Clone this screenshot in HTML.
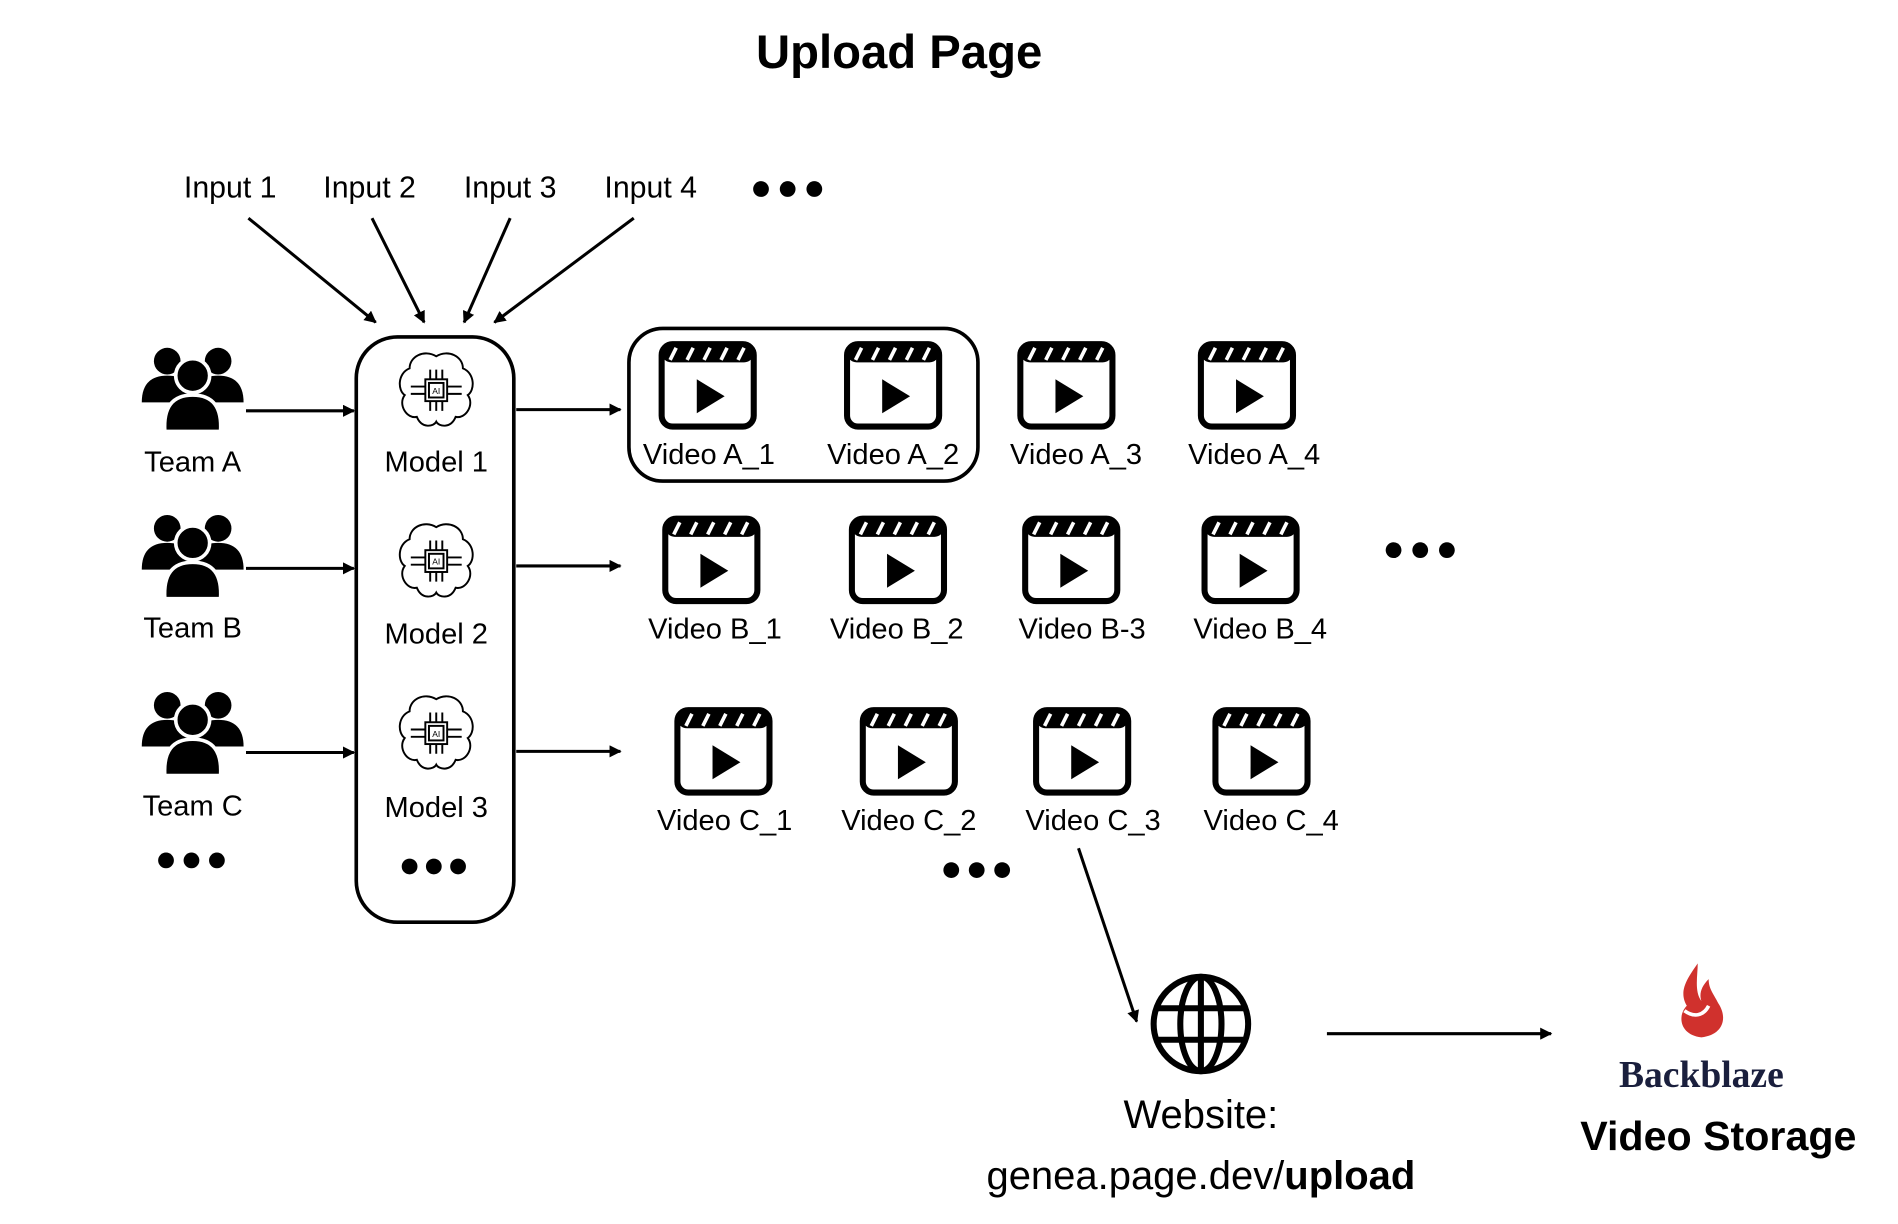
<!DOCTYPE html>
<html><head><meta charset="utf-8"><style>
html,body{margin:0;padding:0;background:#fff;width:1898px;height:1224px;overflow:hidden}
svg{display:block}
text{font-family:"Liberation Sans",sans-serif;fill:#000}
</style></head><body>
<svg width="1898" height="1224" viewBox="0 0 1560 1006" xmlns="http://www.w3.org/2000/svg">
<defs>
<marker id="ah" markerWidth="10" markerHeight="10" refX="9" refY="5" orient="auto" markerUnits="userSpaceOnUse"><path d="M0,0 L10,5 L0,10 z" fill="#000"/></marker>
<g id="clap">
<rect x="-38" y="-34" width="76" height="68" rx="9" fill="none" stroke="#000" stroke-width="5"/>
<rect x="-38" y="-34" width="76" height="15" rx="8" fill="#000"/>
<path d="M-26,-31 l-5,10 M-12,-31 l-5,10 M2,-31 l-5,10 M16,-31 l-5,10 M30,-31 l-5,10" stroke="#fff" stroke-width="3"/>
<path d="M-9,-5 L14,9 L-9,23 z" fill="#000"/>
</g>
<g id="people">
<circle cx="-21" cy="-24" r="11"/><circle cx="21" cy="-24" r="11"/>
<path d="M-42,10 Q-42,-12 -21,-12 Q0,-12 0,10 z"/><path d="M0,10 Q0,-12 21,-12 Q42,-12 42,10 z"/>
<circle cx="0" cy="-12" r="14" stroke="#fff" stroke-width="3"/>
<path d="M-23,34 Q-25,4 0,4 Q25,4 23,34 z" stroke="#fff" stroke-width="3"/>
</g>
<g id="brain" fill="none" stroke="#000" stroke-width="1.6">
<path d="M0,-28 C-10,-34 -22,-28 -22,-18 C-32,-14 -32,0 -26,4 C-32,12 -24,24 -16,22 C-12,32 -2,30 0,26 C2,30 12,32 16,22 C24,24 32,12 26,4 C32,0 32,-14 22,-18 C22,-28 10,-34 0,-28 z"/>
<rect x="-9" y="-9" width="18" height="18"/><rect x="-6" y="-6" width="12" height="12"/>
<path d="M-5,-9 v-8 M0,-9 v-8 M5,-9 v-8 M-5,9 v8 M0,9 v8 M5,9 v8 M-9,-3 h-12 M-9,3 h-12 M9,-3 h12 M9,3 h12"/>
<text x="0" y="3" font-size="7" text-anchor="middle" stroke="none" fill="#000">AI</text>
</g>
</defs>
<g transform="scale(0.996)">
<text x="742" y="56" font-size="39" font-weight="bold" text-anchor="middle">Upload Page</text>

<g font-size="25" text-anchor="middle">
<text x="190" y="163">Input 1</text><text x="305" y="163">Input 2</text>
<text x="421" y="163">Input 3</text><text x="537" y="163">Input 4</text>
</g>
<g fill="#000">
<circle cx="628" cy="156" r="6.5"/><circle cx="650" cy="156" r="6.5"/><circle cx="672" cy="156" r="6.5"/>
<circle cx="137" cy="710" r="6.5"/><circle cx="158" cy="710" r="6.5"/><circle cx="179" cy="710" r="6.5"/>
<circle cx="338" cy="715" r="6.5"/><circle cx="358" cy="715" r="6.5"/><circle cx="378" cy="715" r="6.5"/>
<circle cx="1150" cy="454" r="6.5"/><circle cx="1172" cy="454" r="6.5"/><circle cx="1194" cy="454" r="6.5"/>
<circle cx="785" cy="718" r="6.5"/><circle cx="806" cy="718" r="6.5"/><circle cx="827" cy="718" r="6.5"/>
</g>

<g stroke="#000" stroke-width="2.5" marker-end="url(#ah)">
<line x1="205" y1="180" x2="310" y2="266"/><line x1="307" y1="180" x2="350" y2="266"/>
<line x1="421" y1="180" x2="383" y2="266"/><line x1="523" y1="180" x2="408" y2="266"/>
<line x1="203" y1="339" x2="292" y2="339"/><line x1="203" y1="469" x2="292" y2="469"/><line x1="203" y1="621" x2="292" y2="621"/>
<line x1="426" y1="338" x2="512" y2="338"/><line x1="426" y1="467" x2="512" y2="467"/><line x1="426" y1="620" x2="512" y2="620"/>
<line x1="890" y1="700" x2="938" y2="843"/>
<line x1="1095" y1="853" x2="1280" y2="853"/>
</g>

<rect x="294" y="278" width="130" height="483" rx="34" fill="none" stroke="#000" stroke-width="3"/>
<rect x="519" y="271" width="288" height="126" rx="28" fill="none" stroke="#000" stroke-width="3"/>

<use href="#people" x="159" y="322"/><use href="#people" x="159" y="460"/><use href="#people" x="159" y="606"/>
<use href="#brain" x="360" y="322"/><use href="#brain" x="360" y="463"/><use href="#brain" x="360" y="605"/>

<g font-size="24" text-anchor="middle">
<text x="159" y="389">Team A</text><text x="159" y="526">Team B</text><text x="159" y="673">Team C</text>
<text x="360" y="389">Model 1</text><text x="360" y="531">Model 2</text><text x="360" y="674">Model 3</text>
</g>

<use href="#clap" x="584" y="318"/><use href="#clap" x="737" y="318"/><use href="#clap" x="880" y="318"/><use href="#clap" x="1029" y="318"/>
<use href="#clap" x="587" y="462"/><use href="#clap" x="741" y="462"/><use href="#clap" x="884" y="462"/><use href="#clap" x="1032" y="462"/>
<use href="#clap" x="597" y="620"/><use href="#clap" x="750" y="620"/><use href="#clap" x="893" y="620"/><use href="#clap" x="1041" y="620"/>

<g font-size="24" text-anchor="middle">
<text x="585" y="383">Video A_1</text><text x="737" y="383">Video A_2</text><text x="888" y="383">Video A_3</text><text x="1035" y="383">Video A_4</text>
<text x="590" y="527">Video B_1</text><text x="740" y="527">Video B_2</text><text x="893" y="527">Video B-3</text><text x="1040" y="527">Video B_4</text>
<text x="598" y="685">Video C_1</text><text x="750" y="685">Video C_2</text><text x="902" y="685">Video C_3</text><text x="1049" y="685">Video C_4</text>
</g>

<g fill="none" stroke="#000" stroke-width="5">
<circle cx="991" cy="845" r="39"/>
<ellipse cx="991" cy="845" rx="17" ry="39"/>
<line x1="991" y1="806" x2="991" y2="884"/>
<line x1="953" y1="832" x2="1029" y2="832"/><line x1="953" y1="858" x2="1029" y2="858"/>
</g>

<text x="991" y="931" font-size="33" text-anchor="middle">Website:</text>
<text x="991" y="981" font-size="33" text-anchor="middle">genea.page.dev/<tspan font-weight="bold">upload</tspan></text>

<path d="M1401,795 C1392,808 1385,818 1392,830 C1384,838 1386,854 1404,856 C1422,854 1426,840 1418,828 C1414,820 1410,816 1410,808 C1404,814 1402,820 1404,826 C1398,818 1401,805 1401,795 z" fill="#d0312d"/>
<path d="M1390,834 C1398,840 1406,838 1410,830" stroke="#fff" stroke-width="3" fill="none"/>
<text x="1404" y="897" font-size="31" font-weight="bold" text-anchor="middle" style="font-family:'Liberation Serif',serif;fill:#1a1f3d">Backblaze</text>
<text x="1418" y="949" font-size="34" font-weight="bold" text-anchor="middle">Video Storage</text>
</g>
</svg>
</body></html>
